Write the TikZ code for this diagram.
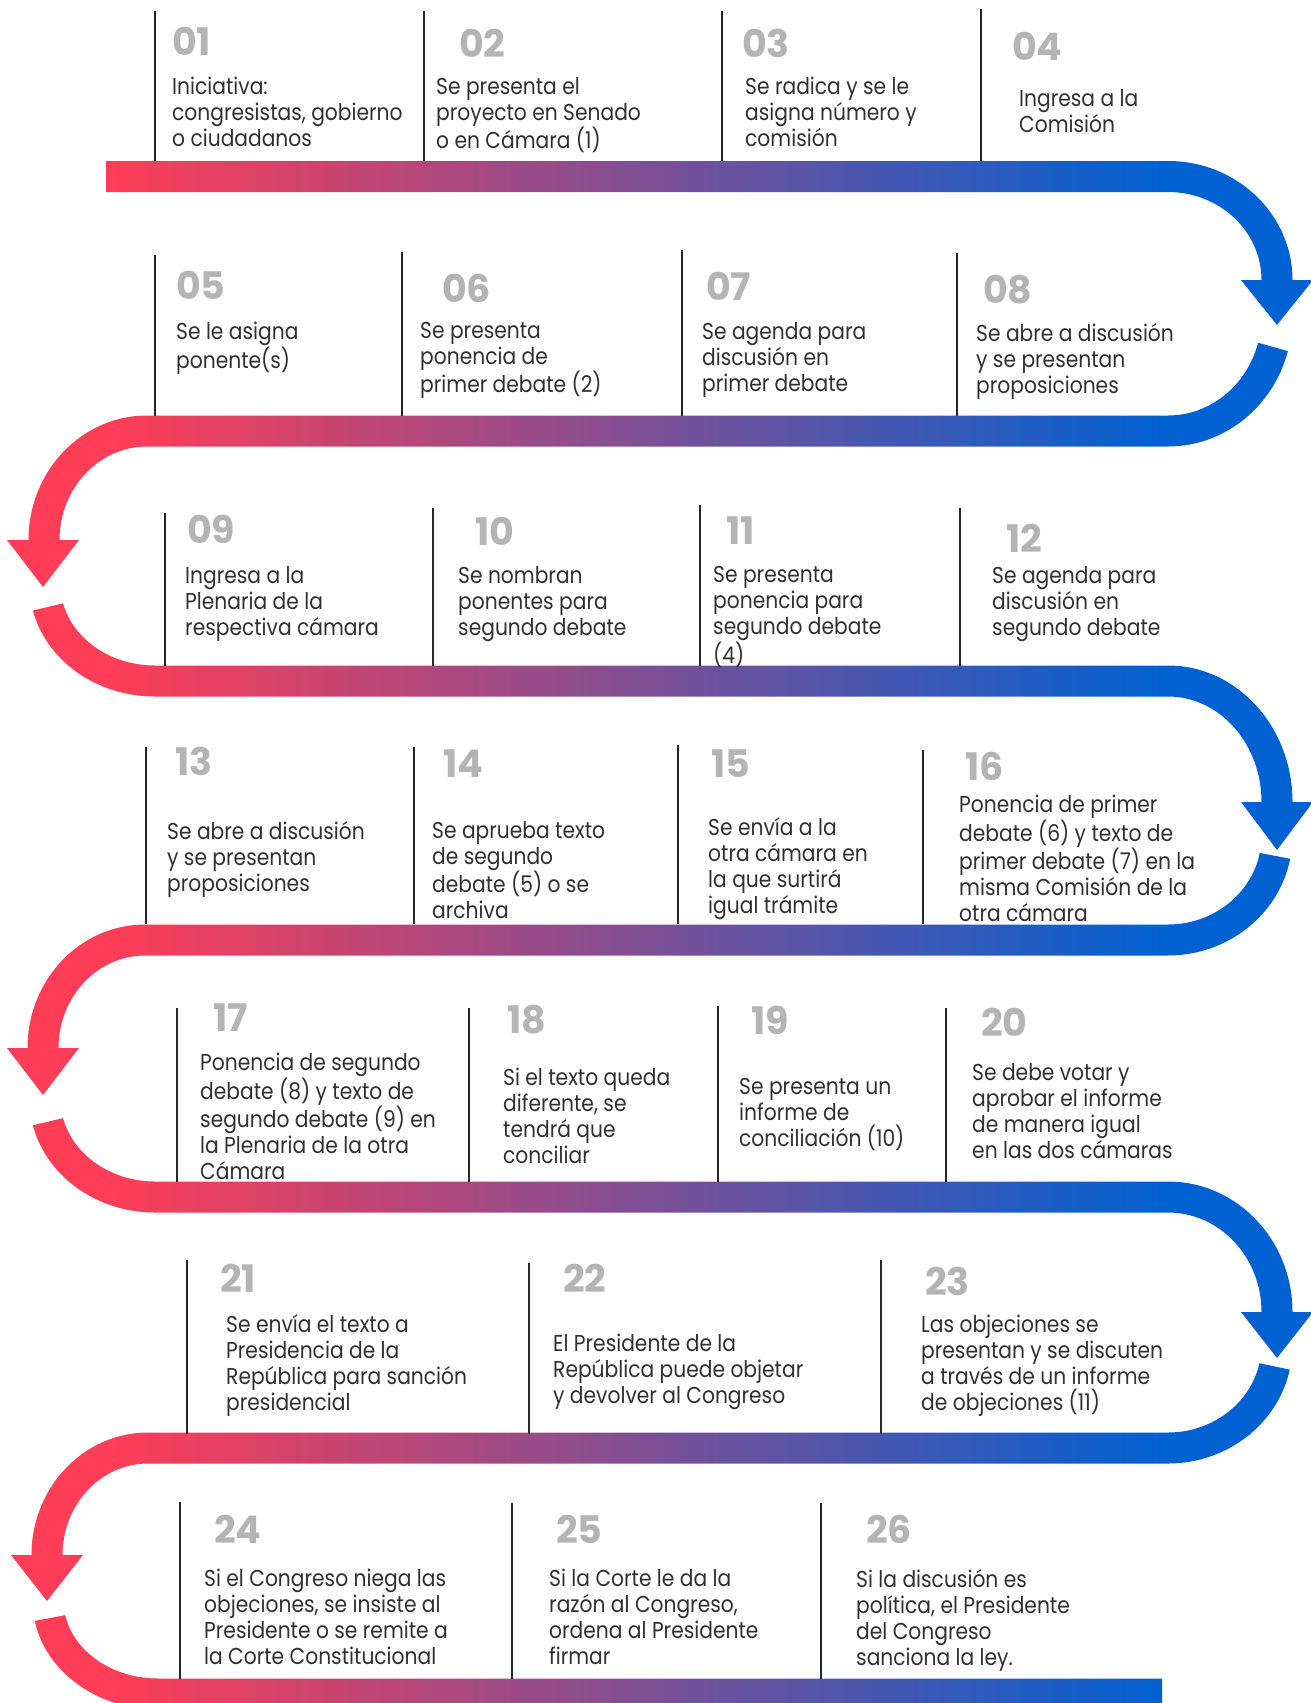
\documentclass[tikz,border=0pt]{standalone}
\usepackage{fontspec}
\setmainfont{Poppins}[FakeStretch=0.88]
\newfontfamily\numfont{Poppins}
\definecolor{snakered}{HTML}{FF3D56}
\definecolor{snakeblue}{HTML}{0061D2}
\definecolor{stepgray}{HTML}{B4B4B4}
\definecolor{textgray}{HTML}{303030}

\begin{document}
\begin{tikzpicture}[x=1pt, y=1pt,
  stepbar/.style={line width=2pt, black!85},
  stepnum/.style={anchor=west, inner sep=0pt, text=stepgray, font=\numfont\bfseries\fontsize{38}{40}\selectfont},
  steptext/.style={anchor=north west, inner sep=0pt, align=left, text=textgray, font=\fontsize{23}{26}\selectfont}]
  \useasboundingbox (0,0) rectangle (1311,-1703);

  % Snake band: clip to its outline, then shade red -> blue
  \begin{scope}
    \clip
      % row 1 and right turn
      (106,-161) rectangle (1168,-192)
      (1168,-161) arc[start angle=90, end angle=0, x radius=124.5, y radius=119] -- (1261.5,-280)
        arc[start angle=0, end angle=90, x radius=93.5, y radius=88] -- cycle
      (1241,-280) -- (1313,-280) -- (1277,-325) -- cycle
      ([shift={(1168,-316)}]-15.6:124.5 and 130.5) arc[start angle=-15.6, end angle=-90, x radius=124.5, y radius=130.5]
        -- (1168,-415.5) arc[start angle=-90, end angle=-15.6, x radius=93.5, y radius=99.5] -- cycle
      % row 2 and left turn
      (147,-415.5) rectangle (1168,-446.5)
      (147,-415.5) arc[start angle=90, end angle=180, x radius=118.5, y radius=124.5] -- (59.5,-540)
        arc[start angle=180, end angle=90, x radius=87.5, y radius=93.5] -- cycle
      (7,-540) -- (79,-540) -- (43,-587) -- cycle
      ([shift={(155,-584.6)}]193.4:125.5 and 111.9) arc[start angle=193.4, end angle=270, x radius=125.5, y radius=111.9]
        -- (155,-665.5) arc[start angle=270, end angle=193.4, x radius=94.5, y radius=80.9] -- cycle
      % row 3 and right turn
      (155,-665.5) rectangle (1168,-696.5)
      (1168,-665.5) arc[start angle=90, end angle=0, x radius=124.5, y radius=136.5] -- (1261.5,-802)
        arc[start angle=0, end angle=90, x radius=93.5, y radius=105.5] -- cycle
      (1241,-802) -- (1313,-802) -- (1277,-850) -- cycle
      ([shift={(1168,-836)}]-11:124.5 and 119.5) arc[start angle=-11, end angle=-90, x radius=124.5, y radius=119.5]
        -- (1168,-924.5) arc[start angle=-90, end angle=-11, x radius=93.5, y radius=88.5] -- cycle
      % row 4 and left turn
      (145,-924.5) rectangle (1168,-955.5)
      (145,-924.5) arc[start angle=90, end angle=180, x radius=117.5, y radius=123.5] -- (58.5,-1048)
        arc[start angle=180, end angle=90, x radius=86.5, y radius=92.5] -- cycle
      (7,-1048) -- (79,-1048) -- (43,-1095) -- cycle
      ([shift={(155,-1099)}]193.4:125.5 and 113.5) arc[start angle=193.4, end angle=270, x radius=125.5, y radius=113.5]
        -- (155,-1181.5) arc[start angle=270, end angle=193.4, x radius=94.5, y radius=82.5] -- cycle
      % row 5 and right turn
      (155,-1181.5) rectangle (1168,-1212.5)
      (1168,-1181.5) arc[start angle=90, end angle=0, x radius=124.5, y radius=130.5] -- (1261.5,-1312)
        arc[start angle=0, end angle=90, x radius=93.5, y radius=99.5] -- cycle
      (1241,-1312) -- (1313,-1312) -- (1277,-1358) -- cycle
      ([shift={(1168,-1345)}]-12:124.5 and 118.5) arc[start angle=-12, end angle=-90, x radius=124.5, y radius=118.5]
        -- (1168,-1432.5) arc[start angle=-90, end angle=-12, x radius=93.5, y radius=87.5] -- cycle
      % row 6 and left turn
      (148,-1432.5) rectangle (1168,-1463.5)
      (148,-1432.5) arc[start angle=90, end angle=180, x radius=116.5, y radius=122.5] -- (62.5,-1555)
        arc[start angle=180, end angle=90, x radius=85.5, y radius=91.5] -- cycle
      (11,-1555) -- (83,-1555) -- (47,-1601) -- cycle
      ([shift={(158,-1600.5)}]190.8:125.5 and 109) arc[start angle=190.8, end angle=270, x radius=125.5, y radius=109]
        -- (158,-1678.5) arc[start angle=270, end angle=190.8, x radius=94.5, y radius=78] -- cycle
      % row 7
      (158,-1678.5) rectangle (1162,-1709.5);
    \fill[snakered] (0,0) rectangle (110,-1710);
    \shade[left color=snakered, right color=snakeblue] (110,0) rectangle (1168,-1710);
    \fill[snakeblue] (1168,0) rectangle (1311,-1710);
  \end{scope}

  % Row 1
  \draw[stepbar] (155,-11) -- (155,-161);
  \draw[stepbar] (424,-11) -- (424,-161);
  \draw[stepbar] (722,-11) -- (722,-161);
  \draw[stepbar] (981,-9) -- (981,-161);
  \node[stepnum] (n01) at (172,-41) {01};
  \node[stepnum] (n02) at (459,-43) {02};
  \node[stepnum] (n03) at (742,-43) {03};
  \node[stepnum] (n04) at (1012,-46) {04};
  \node[steptext] (t01) at (172,-77) {Iniciativa:\\congresistas, gobierno\\o ciudadanos};
  \node[steptext] (t02) at (436,-77) {Se presenta el\\proyecto en Senado\\o en Cámara (1)};
  \node[steptext] (t03) at (745,-77) {Se radica y se le\\asigna número y\\comisión};
  \node[steptext] (t04) at (1019,-89) {Ingresa a la\\Comisión};

  % Row 2
  \draw[stepbar] (155,-255) -- (155,-416);
  \draw[stepbar] (402,-252) -- (402,-416);
  \draw[stepbar] (682,-250) -- (682,-416);
  \draw[stepbar] (957,-253) -- (957,-416);
  \node[stepnum] (n05) at (176,-285) {05};
  \node[stepnum] (n06) at (442,-288) {06};
  \node[stepnum] (n07) at (706,-286) {07};
  \node[stepnum] (n08) at (983,-290) {08};
  \node[steptext] (t05) at (176,-322) {Se le asigna\\ponente(s)};
  \node[steptext] (t06) at (420,-322) {Se presenta\\ponencia de\\primer debate (2)};
  \node[steptext] (t07) at (702,-322) {Se agenda para\\discusión en\\primer debate};
  \node[steptext] (t08) at (976,-323) {Se abre a discusión\\y se presentan\\proposiciones};

  % Row 3
  \draw[stepbar] (165,-513) -- (165,-666);
  \draw[stepbar] (433,-508) -- (433,-666);
  \draw[stepbar] (700,-505) -- (700,-666);
  \draw[stepbar] (960,-508) -- (960,-666);
  \node[stepnum] (n09) at (187,-529) {09};
  \node[stepnum] (n10) at (475,-531) {10};
  \node[stepnum] (n11) at (726,-531) {11};
  \node[stepnum] (n12) at (1006,-538) {12};
  \node[steptext] (t09) at (185,-566) {Ingresa a la\\Plenaria de la\\respectiva cámara};
  \node[steptext] (t10) at (458,-566) {Se nombran\\ponentes para\\segundo debate};
  \node[steptext] (t11) at (713,-566) {Se presenta\\ponencia para\\segundo debate\\(4)};
  \node[steptext] (t12) at (992,-566) {Se agenda para\\discusión en\\segundo debate};

  % Row 4
  \draw[stepbar] (146,-747) -- (146,-924);
  \draw[stepbar] (414,-747) -- (414,-924);
  \draw[stepbar] (678,-745) -- (678,-924);
  \draw[stepbar] (923,-750) -- (923,-924);
  \node[stepnum] (n13) at (175,-761) {13};
  \node[stepnum] (n14) at (443,-764) {14};
  \node[stepnum] (n15) at (711,-764) {15};
  \node[stepnum] (n16) at (965,-766) {16};
  \node[steptext] (t13) at (167,-821) {Se abre a discusión\\y se presentan\\proposiciones};
  \node[steptext] (t14) at (432,-821) {Se aprueba texto\\de segundo\\debate (5) o se\\archiva};
  \node[steptext] (t15) at (708,-817) {Se envía a la\\otra cámara en\\la que surtirá\\igual trámite};
  \node[steptext] (t16) at (959,-795) {Ponencia de primer\\debate (6) y texto de\\primer debate (7) en la\\misma Comisión de la\\otra cámara};

  % Row 5
  \draw[stepbar] (177,-1008) -- (177,-1182);
  \draw[stepbar] (469,-1008) -- (469,-1182);
  \draw[stepbar] (718,-1006) -- (718,-1182);
  \draw[stepbar] (946,-1008) -- (946,-1182);
  \node[stepnum] (n17) at (213,-1018) {17};
  \node[stepnum] (n18) at (507,-1020) {18};
  \node[stepnum] (n19) at (751,-1020) {19};
  \node[stepnum] (n20) at (981,-1022) {20};
  \node[steptext] (t17) at (200,-1053) {Ponencia de segundo\\debate (8) y texto de\\segundo debate (9) en\\la Plenaria de la otra\\Cámara};
  \node[steptext] (t18) at (503,-1068) {Si el texto queda\\diferente, se\\tendrá que\\conciliar};
  \node[steptext] (t19) at (739,-1078) {Se presenta un\\informe de\\conciliación (10)};
  \node[steptext] (t20) at (972,-1063) {Se debe votar y\\aprobar el informe\\de manera igual\\en las dos cámaras};

  % Row 6
  \draw[stepbar] (187,-1260) -- (187,-1434);
  \draw[stepbar] (529,-1263) -- (529,-1434);
  \draw[stepbar] (881,-1260) -- (881,-1434);
  \node[stepnum] (n21) at (220,-1278) {21};
  \node[stepnum] (n22) at (563,-1278) {22};
  \node[stepnum] (n23) at (925,-1281) {23};
  \node[steptext] (t21) at (226,-1314) {Se envía el texto a\\Presidencia de la\\República para sanción\\presidencial};
  \node[steptext] (t22) at (553,-1334) {El Presidente de la\\República puede objetar\\y devolver al Congreso};
  \node[steptext] (t23) at (921,-1315) {Las objeciones se\\presentan y se discuten\\a través de un informe\\de objeciones (11)};

  % Row 7
  \draw[stepbar] (180,-1502) -- (180,-1679);
  \draw[stepbar] (512,-1503) -- (512,-1679);
  \draw[stepbar] (821,-1503) -- (821,-1679);
  \node[stepnum] (n24) at (214,-1529) {24};
  \node[stepnum] (n25) at (556,-1529) {25};
  \node[stepnum] (n26) at (866,-1529) {26};
  \node[steptext] (t24) at (204,-1569) {Si el Congreso niega las\\objeciones, se insiste al\\Presidente o se remite a\\la Corte Constitucional};
  \node[steptext] (t25) at (549,-1569) {Si la Corte le da la\\razón al Congreso,\\ordena al Presidente\\firmar};
  \node[steptext] (t26) at (856,-1569) {Si la discusión es\\política, el Presidente\\del Congreso\\sanciona la ley.};
\end{tikzpicture}
\end{document}
